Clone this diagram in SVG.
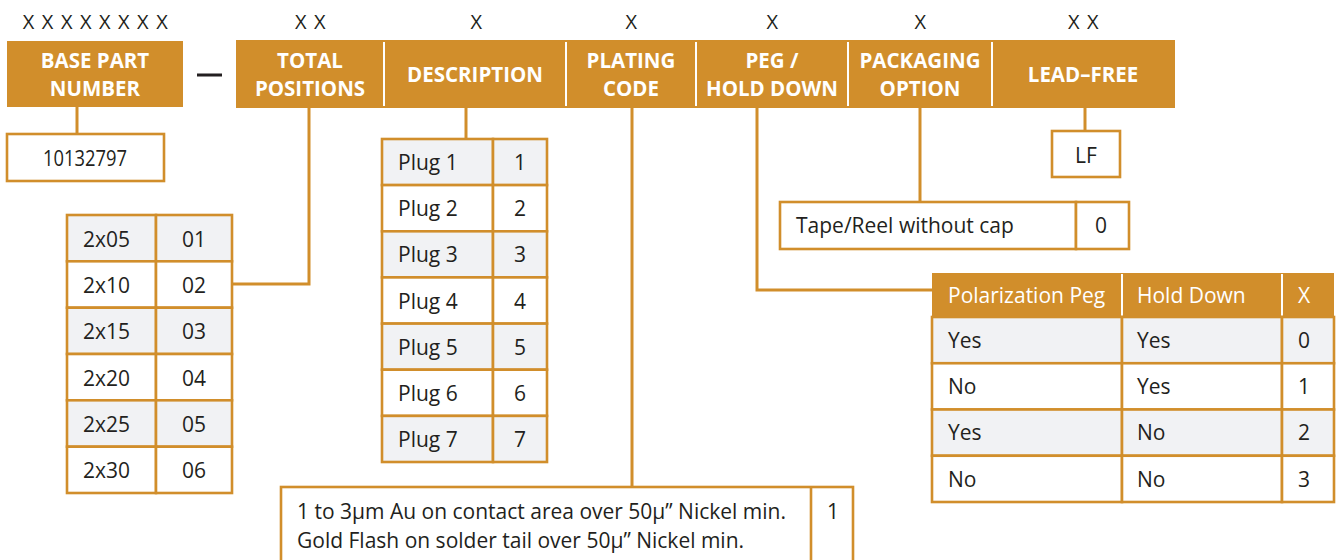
<svg xmlns="http://www.w3.org/2000/svg" width="1341" height="560" viewBox="0 0 1341 560">
<style>
.bar{fill:#D18E2B}
.cell{fill:#fff;stroke:#D18E2B;stroke-width:2.6}
.g{fill:#F1F2F4}
.t{font-family:"Open Sans","Noto Sans",sans-serif;font-size:21px;fill:#231F20}
.h{font-weight:700;fill:#fff;text-anchor:middle;font-size:20.5px}
.w{fill:#fff}
.c{text-anchor:middle}
.x{font-size:20px;letter-spacing:7.5px}
.conn{fill:none;stroke:#D18E2B;stroke-width:3}
.sep{stroke:#fff;stroke-width:2}
</style>
<rect width="1341" height="560" fill="#fff"/>

<g id="code-labels" class="t x">
<text x="99" y="29" class="c">XXXXXXXX</text>
<text x="314" y="29" class="c">XX</text>
<text x="480" y="29" class="c">X</text>
<text x="635" y="29" class="c">X</text>
<text x="776" y="29" class="c">X</text>
<text x="924" y="29" class="c">X</text>
<text x="1087" y="29" class="c">XX</text>
</g>

<g id="connectors" class="conn">
<path d="M77 107V134"/>
<path d="M309 108V284H232"/>
<path d="M466 108V139"/>
<path d="M632 108V487"/>
<path d="M757 108V290H932"/>
<path d="M920 108V202"/>
<path d="M1085 108V131"/>
</g>

<g id="base-part-number">
<rect class="bar" x="7" y="41" width="176" height="66"/>
<text class="t h" x="95" y="68">BASE PART</text>
<text class="t h" x="95" y="96">NUMBER</text>
</g>

<g id="dash">
<rect x="197" y="73.5" width="25" height="3" fill="#231F20"/>
</g>

<g id="header-bar">
<rect class="bar" x="236" y="40" width="939" height="68"/>
<g class="sep">
<line x1="384" y1="42" x2="384" y2="106"/>
<line x1="566" y1="42" x2="566" y2="106"/>
<line x1="696" y1="42" x2="696" y2="106"/>
<line x1="848" y1="42" x2="848" y2="106"/>
<line x1="992" y1="42" x2="992" y2="106"/>
</g>
</g>
<g id="total-positions">
<text class="t h" x="310" y="68">TOTAL</text>
<text class="t h" x="310" y="96">POSITIONS</text>
</g>
<g id="description">
<text class="t h" x="475" y="82">DESCRIPTION</text>
</g>
<g id="plating-code">
<text class="t h" x="631" y="68">PLATING</text>
<text class="t h" x="631" y="96">CODE</text>
</g>
<g id="peg-hold-down">
<text class="t h" x="772" y="68">PEG /</text>
<text class="t h" x="772" y="96">HOLD DOWN</text>
</g>
<g id="packaging-option">
<text class="t h" x="920" y="68">PACKAGING</text>
<text class="t h" x="920" y="96">OPTION</text>
</g>
<g id="lead-free">
<text class="t h" x="1083" y="82">LEAD–FREE</text>
</g>

<g id="base-number-box">
<rect class="cell" x="7" y="134" width="157" height="47"/>
<text class="t c" x="85" y="166" textLength="84" lengthAdjust="spacingAndGlyphs">10132797</text>
</g>

<g id="positions-table">
<rect class="cell g" x="67" y="215" width="89" height="46.3"/><rect class="cell g" x="156" y="215" width="76" height="46.3"/>
<rect class="cell" x="67" y="261.3" width="89" height="46.4"/><rect class="cell" x="156" y="261.3" width="76" height="46.4"/>
<rect class="cell g" x="67" y="307.7" width="89" height="46.3"/><rect class="cell g" x="156" y="307.7" width="76" height="46.3"/>
<rect class="cell" x="67" y="354" width="89" height="46.3"/><rect class="cell" x="156" y="354" width="76" height="46.3"/>
<rect class="cell g" x="67" y="400.3" width="89" height="46.4"/><rect class="cell g" x="156" y="400.3" width="76" height="46.4"/>
<rect class="cell" x="67" y="446.7" width="89" height="46.3"/><rect class="cell" x="156" y="446.7" width="76" height="46.3"/>
<g class="t">
<text x="83" y="247">2x05</text><text class="c" x="194" y="247">01</text>
<text x="83" y="293">2x10</text><text class="c" x="194" y="293">02</text>
<text x="83" y="339">2x15</text><text class="c" x="194" y="339">03</text>
<text x="83" y="386">2x20</text><text class="c" x="194" y="386">04</text>
<text x="83" y="432">2x25</text><text class="c" x="194" y="432">05</text>
<text x="83" y="478">2x30</text><text class="c" x="194" y="478">06</text>
</g>
</g>

<g id="description-table">
<rect class="cell g" x="382" y="139" width="111" height="46.1"/><rect class="cell g" x="493" y="139" width="54" height="46.1"/>
<rect class="cell" x="382" y="185.1" width="111" height="46.2"/><rect class="cell" x="493" y="185.1" width="54" height="46.2"/>
<rect class="cell g" x="382" y="231.3" width="111" height="46.1"/><rect class="cell g" x="493" y="231.3" width="54" height="46.1"/>
<rect class="cell" x="382" y="277.4" width="111" height="46.2"/><rect class="cell" x="493" y="277.4" width="54" height="46.2"/>
<rect class="cell g" x="382" y="323.6" width="111" height="46.1"/><rect class="cell g" x="493" y="323.6" width="54" height="46.1"/>
<rect class="cell" x="382" y="369.7" width="111" height="46.2"/><rect class="cell" x="493" y="369.7" width="54" height="46.2"/>
<rect class="cell g" x="382" y="415.9" width="111" height="46.1"/><rect class="cell g" x="493" y="415.9" width="54" height="46.1"/>
<g class="t">
<text x="398" y="170">Plug 1</text><text class="c" x="520" y="170">1</text>
<text x="398" y="216">Plug 2</text><text class="c" x="520" y="216">2</text>
<text x="398" y="262">Plug 3</text><text class="c" x="520" y="262">3</text>
<text x="398" y="309">Plug 4</text><text class="c" x="520" y="309">4</text>
<text x="398" y="355">Plug 5</text><text class="c" x="520" y="355">5</text>
<text x="398" y="401">Plug 6</text><text class="c" x="520" y="401">6</text>
<text x="398" y="447">Plug 7</text><text class="c" x="520" y="447">7</text>
</g>
</g>

<g id="plating-box">
<rect class="cell" x="281" y="487" width="572" height="90"/>
<line x1="811" y1="487" x2="811" y2="570" stroke="#D18E2B" stroke-width="2.6"/>
<g class="t">
<text x="297" y="519">1 to 3µm Au on contact area over 50µ” Nickel min.</text>
<text x="297" y="548">Gold Flash on solder tail over 50µ” Nickel min.</text>
<text class="c" x="833" y="519">1</text>
</g>
</g>

<g id="packaging-box">
<rect class="cell" x="780" y="202" width="296" height="47"/>
<rect class="cell" x="1076" y="202" width="53" height="47"/>
<text class="t" x="796" y="233">Tape/Reel without cap</text>
<text class="t c" x="1101" y="233">0</text>
</g>

<g id="lf-box">
<rect class="cell" x="1052" y="131" width="68" height="46"/>
<text class="t c" x="1086" y="163">LF</text>
</g>

<g id="peg-table">
<rect class="bar" x="932" y="273" width="402" height="44"/>
<g class="sep">
<line x1="1122" y1="274" x2="1122" y2="316"/>
<line x1="1282" y1="274" x2="1282" y2="316"/>
</g>
<rect class="cell g" x="932" y="317" width="190" height="46.25"/><rect class="cell g" x="1122" y="317" width="160" height="46.25"/><rect class="cell g" x="1282" y="317" width="52" height="46.25"/>
<rect class="cell" x="932" y="363.25" width="190" height="46.25"/><rect class="cell" x="1122" y="363.25" width="160" height="46.25"/><rect class="cell" x="1282" y="363.25" width="52" height="46.25"/>
<rect class="cell g" x="932" y="409.5" width="190" height="46.25"/><rect class="cell g" x="1122" y="409.5" width="160" height="46.25"/><rect class="cell g" x="1282" y="409.5" width="52" height="46.25"/>
<rect class="cell" x="932" y="455.75" width="190" height="46.25"/><rect class="cell" x="1122" y="455.75" width="160" height="46.25"/><rect class="cell" x="1282" y="455.75" width="52" height="46.25"/>
<g class="t">
<text class="w" x="948" y="303">Polarization Peg</text>
<text class="w" x="1137" y="303">Hold Down</text>
<text class="w c" x="1304" y="303">X</text>
<text x="948" y="348">Yes</text><text x="1137" y="348">Yes</text><text class="c" x="1304" y="348">0</text>
<text x="948" y="394">No</text><text x="1137" y="394">Yes</text><text class="c" x="1304" y="394">1</text>
<text x="948" y="440">Yes</text><text x="1137" y="440">No</text><text class="c" x="1304" y="440">2</text>
<text x="948" y="487">No</text><text x="1137" y="487">No</text><text class="c" x="1304" y="487">3</text>
</g>
</g>
</svg>
